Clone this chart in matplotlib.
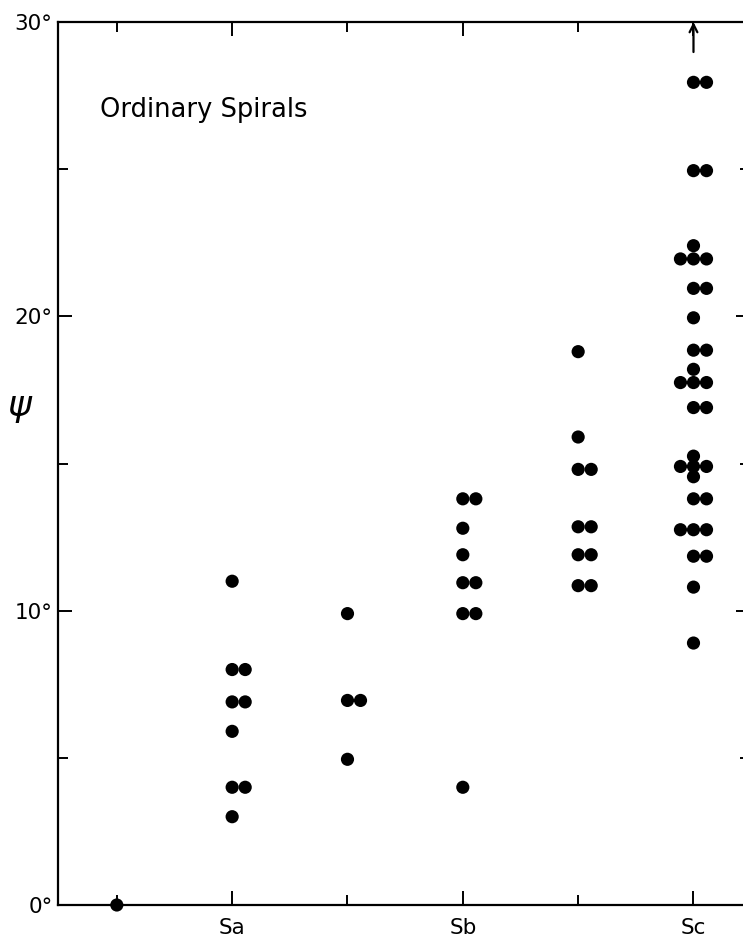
import matplotlib
matplotlib.use('Agg')
import matplotlib.pyplot as plt
import matplotlib.ticker as ticker

# Hubble type positions along x (1 = S0/a ... 6 = Sc)
type_pos = [1, 2, 3, 4, 5, 6]
type_labels = ['', 'Sa', '', 'Sb', '', 'Sc']

# pitch angle psi (degrees) per type; repeated values are drawn side by side
psi_s0a = [0.0]
psi_sa = [11.0, 8.0, 8.0, 6.9, 6.9, 5.9, 4.0, 4.0, 3.0]
psi_sab = [9.9, 6.95, 6.95, 4.95]
psi_sb = [13.8, 13.8, 12.8, 11.9, 10.95, 10.95, 9.9, 9.9, 4.0]
psi_sbc = [18.8, 15.9, 14.8, 14.8, 12.85, 12.85, 11.9, 11.9, 10.85, 10.85]
psi_sc = [27.95, 27.95, 24.95, 24.95, 22.4, 21.95, 21.95, 21.95,
          20.95, 20.95, 19.95, 18.85, 18.85, 18.2, 17.75, 17.75, 17.75,
          16.9, 16.9, 15.25, 14.9, 14.9, 14.9, 14.55, 13.8, 13.8,
          12.75, 12.75, 12.75, 11.85, 11.85, 10.8, 8.9]
psi_groups = [psi_s0a, psi_sa, psi_sab, psi_sb, psi_sbc, psi_sc]

# one Sc galaxy lies above the top of the plot
off_scale_pos = 6

fig = plt.figure(figsize=(7.43, 9.40), dpi=100)
ax = fig.add_axes([58 / 743, 1 - 905 / 940, 692 / 743, 883 / 940])

step = 0.113
spread = {1: [0], 2: [0, 1], 3: [-1, 0, 1]}
for pos, vals in zip(type_pos, psi_groups):
    xs, ys = [], []
    for v in sorted(set(vals)):
        n = vals.count(v)
        for k in spread[n]:
            xs.append(pos + k * step)
            ys.append(v)
    ax.scatter(xs, ys, s=90, color='black', edgecolors='none', zorder=3, clip_on=False)

ax.annotate('', xy=(off_scale_pos, 30), xytext=(off_scale_pos, 28.98),
            arrowprops=dict(arrowstyle='->', lw=1.6, color='black',
                            mutation_scale=14, shrinkA=0, shrinkB=0))

ax.set_xlim(0.49, 6.49)
ax.set_ylim(0, 30)

ax.xaxis.set_major_locator(ticker.FixedLocator([2, 4, 6]))
ax.xaxis.set_minor_locator(ticker.FixedLocator([1, 3, 5]))
ax.set_xticklabels(['Sa', 'Sb', 'Sc'])
ax.yaxis.set_major_locator(ticker.MultipleLocator(10))
ax.yaxis.set_minor_locator(ticker.MultipleLocator(5))
ax.yaxis.set_major_formatter(ticker.FuncFormatter(lambda v, p: '%d°' % v))

ax.tick_params(which='both', direction='in', top=True, right=True, width=1.4, colors='black')
ax.tick_params(which='major', length=10)
ax.tick_params(which='minor', length=7)
ax.tick_params(axis='x', which='major', labelsize=15.5, pad=9)
ax.tick_params(axis='y', which='major', labelsize=15.5, pad=4)

for sp in ax.spines.values():
    sp.set_linewidth(1.6)

ax.text(0.854, 26.78, 'Ordinary Spirals', fontsize=18.5, ha='left', va='baseline')
fig.text(20 / 743, 1 - 408 / 940, r'$\psi$', fontsize=26, ha='center', va='center')

fig.savefig('out.png', dpi=100)
